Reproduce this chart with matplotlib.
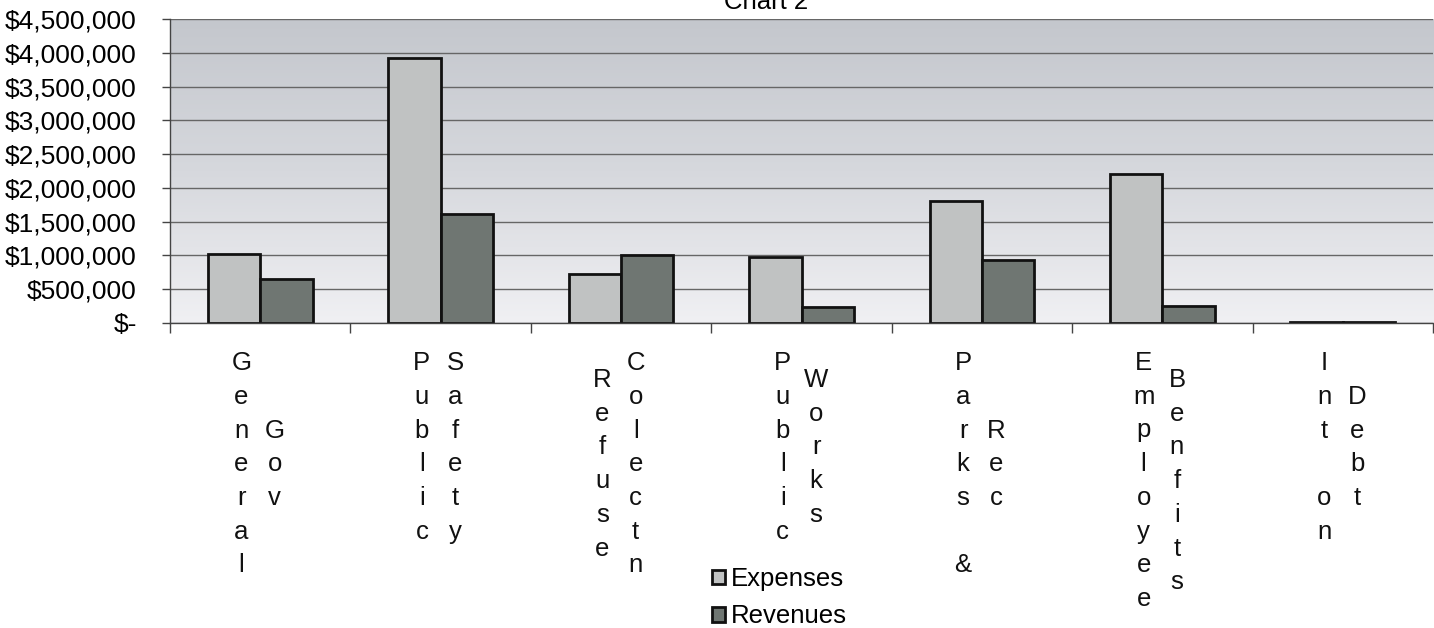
import numpy as np
import matplotlib.pyplot as plt
from matplotlib.colors import LinearSegmentedColormap
from matplotlib.patches import Patch
from matplotlib.ticker import FuncFormatter

plt.rcParams['font.family'] = ['Liberation Sans', 'DejaVu Sans']

# data
label_cols = [["General", "Gov"], ["Public", "Safety"], ["Refuse", "Colectn"],
              ["Public", "Works"], ["Parks &", "Rec"], ["Employee", "Benfits"],
              ["Int on", "Debt"]]
expenses = [1020000, 3930000, 718000, 975000, 1800000, 2205000, 20000]
revenues = [645000, 1612000, 1000000, 243000, 935000, 252000, 20000]

fig = plt.figure(figsize=(14.34, 6.28), dpi=100)
ax = fig.add_axes([170 / 1434, 305 / 628, 1263 / 1434, 304 / 628])

x = np.arange(len(label_cols))
w = 0.29

# gradient background of the plot area (dark at top, light at bottom)
grad = np.linspace(0, 1, 256).reshape(-1, 1)
cmap = LinearSegmentedColormap.from_list('bg', ['#f0f0f3', '#d6d8dd', '#c4c7cd'])
ax.imshow(grad, extent=[-0.5, 6.5, 0, 4.5e6], aspect='auto', cmap=cmap,
          origin='lower', zorder=0)

ax.bar(x - w / 2, expenses, w, color='#c0c2c2', edgecolor='#111111', linewidth=2, zorder=3)
ax.bar(x + w / 2, revenues, w, color='#6f7672', edgecolor='#111111', linewidth=2, zorder=3)

ax.set_xlim(-0.5, 6.5)
ax.set_ylim(0, 4.5e6)
ax.set_yticks(np.arange(0, 4.5e6 + 1, 5e5))
ax.yaxis.set_major_formatter(FuncFormatter(lambda v, p: '$-' if v == 0 else f'${v:,.0f}'))
ax.yaxis.grid(True, color='#666666', linewidth=1, zorder=1)
ax.set_axisbelow(True)
ax.tick_params(axis='y', labelsize=19, length=6, width=1, color='#444444', pad=18)
ax.set_xticks(np.arange(-0.5, 7, 1))
ax.set_xticklabels([])
ax.tick_params(axis='x', length=7, width=1, color='#444444')
for s in ['top', 'right']:
    ax.spines[s].set_visible(False)
for s in ['left', 'bottom']:
    ax.spines[s].set_color('#444444')
    ax.spines[s].set_linewidth(1)
    ax.spines[s].set_zorder(4)

# stacked category labels (one letter per row, words in columns)
row = 24.3
for i, cols in enumerate(label_cols):
    nmax = max(len(c) for c in cols)
    for j, word in enumerate(cols):
        dx = (j - (len(cols) - 1) / 2) * 24
        start = (nmax - len(word)) / 2
        for k, ch in enumerate(word):
            if ch == ' ':
                continue
            ax.annotate(ch, xy=(i, 0), xycoords=('data', 'axes fraction'),
                        xytext=(dx - 1.5, -28.8 - (start + k) * row), textcoords='offset points',
                        ha='center', va='center', fontsize=18.5, color='#111111')

handles = [Patch(facecolor='#c0c2c2', edgecolor='#111111', linewidth=2),
           Patch(facecolor='#6f7672', edgecolor='#111111', linewidth=2)]
fig.legend(handles, ['Expenses', 'Revenues'], loc='upper left',
           bbox_to_anchor=(712 / 1434, 1 - 567 / 628), frameon=False,
           fontsize=18.5, handlelength=0.5, handleheight=0.5, handletextpad=0.25,
           labelspacing=0.52, borderpad=0, borderaxespad=0)

fig.text(766 / 1434, 1 - 9 / 628, 'Chart 2', ha='center', va='baseline', fontsize=18.5)

fig.savefig('out.png', dpi=100, facecolor='white')
